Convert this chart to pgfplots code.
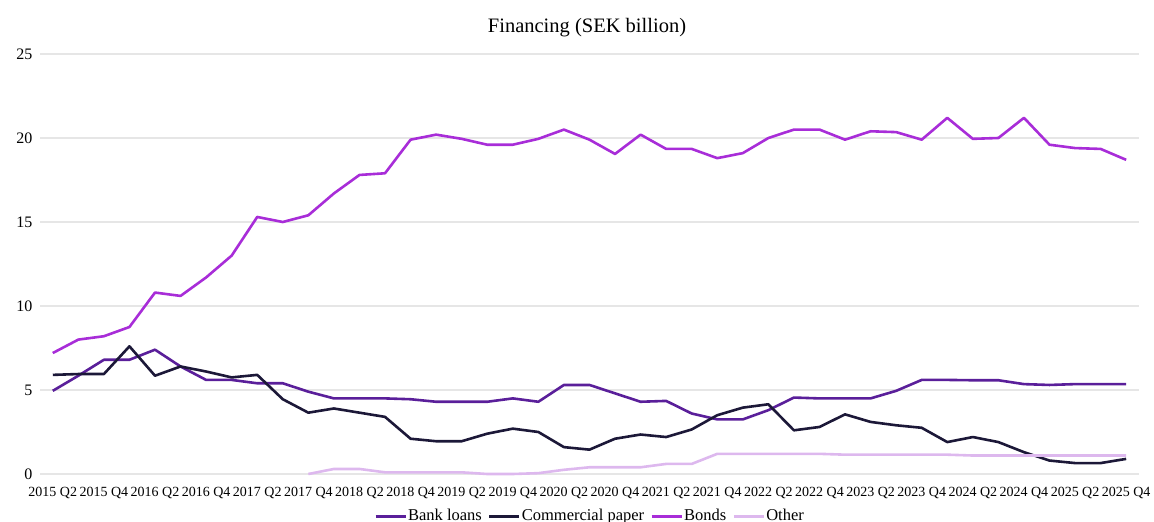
\documentclass[border=0pt]{standalone}
\usepackage{fontspec}
\setmainfont{Liberation Serif}
\usepackage{pgfplots}
\pgfplotsset{compat=1.18}
\definecolor{bankc}{HTML}{5A1F9A}
\definecolor{cpc}{HTML}{1C1838}
\definecolor{bondc}{HTML}{A82DD8}
\definecolor{otherc}{HTML}{DDB8EE}
\definecolor{gridc}{HTML}{E6E6E6}
\begin{document}
\begin{tikzpicture}
\useasboundingbox (0,0) rectangle (1154pt,522pt);
\begin{axis}[
  at={(40pt,48pt)}, anchor=south west,
  scale only axis, width=1099pt, height=420pt,
  xmin=-0.5, xmax=42.5, ymin=0, ymax=25,
  clip=false,
  axis line style={draw=none},
  major tick length=0pt,
  ymajorgrids, grid style={gridc, line width=1.8pt},
  xtick={0,2,...,42},
  xticklabels={2015 Q2,2015 Q4,2016 Q2,2016 Q4,2017 Q2,2017 Q4,2018 Q2,2018 Q4,2019 Q2,2019 Q4,2020 Q2,2020 Q4,2021 Q2,2021 Q4,2022 Q2,2022 Q4,2023 Q2,2023 Q4,2024 Q2,2024 Q4,2025 Q2,2025 Q4},
  ytick={0,5,...,25},
  /pgf/number format/assume math mode=true,
  xticklabel style={font=\fontsize{14}{16}\selectfont, yshift=-10pt},
  yticklabel style={font=\fontsize{16}{18}\selectfont, xshift=-4pt},
  legend columns=4,
  legend style={draw=none, fill=none, at={(axis description cs:0.5,-0.099)}, anchor=center,
    font=\fontsize{16.5}{18}\selectfont, nodes={inner xsep=1pt},
    /tikz/every even column/.append style={column sep=5pt}},
  legend image code/.code={\draw[#1, line width=3pt] (0pt,-1pt) -- (30pt,-1pt);},
  every axis plot/.append style={line width=2.6pt, line join=round},
]
\addplot[bankc] table {
0 4.95
1 5.85
2 6.8
3 6.8
4 7.4
5 6.4
6 5.6
7 5.6
8 5.4
9 5.4
10 4.9
11 4.5
12 4.5
13 4.5
14 4.45
15 4.3
16 4.3
17 4.3
18 4.5
19 4.3
20 5.3
21 5.3
22 4.8
23 4.3
24 4.35
25 3.6
26 3.25
27 3.25
28 3.8
29 4.55
30 4.5
31 4.5
32 4.5
33 4.95
34 5.6
35 5.6
36 5.58
37 5.58
38 5.35
39 5.3
40 5.35
41 5.35
42 5.35
};
\addlegendentry{Bank loans}
\addplot[cpc] table {
0 5.9
1 5.95
2 5.95
3 7.6
4 5.85
5 6.4
6 6.1
7 5.75
8 5.9
9 4.45
10 3.65
11 3.9
12 3.65
13 3.4
14 2.1
15 1.95
16 1.95
17 2.4
18 2.7
19 2.5
20 1.6
21 1.45
22 2.1
23 2.35
24 2.2
25 2.65
26 3.5
27 3.95
28 4.15
29 2.6
30 2.8
31 3.55
32 3.1
33 2.9
34 2.75
35 1.9
36 2.2
37 1.9
38 1.3
39 0.8
40 0.65
41 0.65
42 0.9
};
\addlegendentry{Commercial paper}
\addplot[bondc] table {
0 7.2
1 8.0
2 8.2
3 8.75
4 10.8
5 10.6
6 11.7
7 13.0
8 15.3
9 15.0
10 15.4
11 16.7
12 17.8
13 17.9
14 19.9
15 20.2
16 19.95
17 19.6
18 19.6
19 19.95
20 20.5
21 19.9
22 19.05
23 20.2
24 19.35
25 19.35
26 18.8
27 19.1
28 20.0
29 20.5
30 20.5
31 19.9
32 20.4
33 20.35
34 19.9
35 21.2
36 19.95
37 20.0
38 21.2
39 19.6
40 19.4
41 19.35
42 18.7
};
\addlegendentry{Bonds}
\addplot[otherc] table {
10 0
11 0.3
12 0.3
13 0.1
14 0.1
15 0.1
16 0.1
17 0
18 0
19 0.05
20 0.25
21 0.4
22 0.4
23 0.4
24 0.6
25 0.6
26 1.2
27 1.2
28 1.2
29 1.2
30 1.2
31 1.15
32 1.15
33 1.15
34 1.15
35 1.15
36 1.1
37 1.1
38 1.1
39 1.1
40 1.1
41 1.1
42 1.1
};
\addlegendentry{Other}
\end{axis}
\node[anchor=base, font=\fontsize{20.5}{24}\selectfont, inner sep=0pt] at (587pt,489pt) {Financing (SEK billion)};
\end{tikzpicture}
\end{document}
